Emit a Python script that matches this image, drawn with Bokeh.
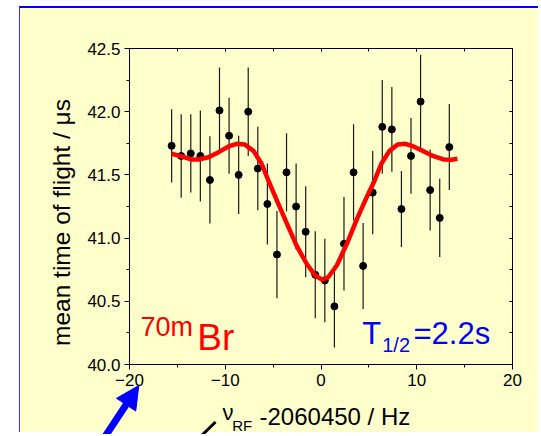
import math
from bokeh.plotting import figure
from bokeh.models import (LinearAxis, SingleIntervalTicker, PrintfTickFormatter,
                          CustomJSTickFormatter, Arrow, NormalHead, ColumnDataSource, Range1d)
from bokeh.core.properties import value
from bokeh.embed import file_html
from bokeh.resources import INLINE

# ---- data ----
freq = [-15.6, -14.6, -13.6, -12.6, -11.6, -10.6, -9.6, -8.6, -7.6, -6.6,
        -5.6, -4.6, -3.6, -2.6, -1.6, -0.6, 0.4, 1.4, 2.4, 3.4,
        4.4, 5.4, 6.4, 7.4, 8.4, 9.4, 10.4, 11.4, 12.4, 13.4]
tof = [41.73, 41.65, 41.67, 41.65, 41.46, 42.01, 41.81, 41.50, 42.00, 41.55,
       41.27, 40.87, 41.52, 41.25, 41.05, 40.71, 40.665, 40.46, 40.955, 41.52,
       40.78, 41.36, 41.88, 41.86, 41.23, 41.65, 42.08, 41.38, 41.16, 41.72]
tof_err = [0.29, 0.33, 0.31, 0.36, 0.345, 0.34, 0.30, 0.31, 0.35, 0.33,
           0.32, 0.345, 0.31, 0.34, 0.36, 0.345, 0.33, 0.325, 0.37, 0.38,
           0.34, 0.33, 0.37, 0.335, 0.30, 0.30, 0.37, 0.32, 0.31, 0.34]
# a point lying just below the axis (only its top shows)
low_freq = [14.4]
low_tof = [39.97]

fit_freq = [-15.6, -14.55, -13.5, -12.8, -11.75, -10.7, -9.65, -8.8, -7.95, -7.05,
            -6.2, -5.5, -4.6, -3.55, -2.55, -1.5, -0.6, 0.1, 0.75, 1.65,
            2.7, 3.75, 4.75, 5.6, 6.3, 7.15, 8.0, 8.8, 9.65, 10.7,
            11.75, 12.8, 13.65, 14.25]
fit_tof = [41.667, 41.646, 41.622, 41.622, 41.64, 41.68, 41.725, 41.746, 41.74, 41.69,
           41.588, 41.456, 41.297, 41.113, 40.94, 40.797, 40.704, 40.672, 40.69, 40.783,
           40.955, 41.15, 41.32, 41.456, 41.588, 41.69, 41.74, 41.746, 41.725, 41.688,
           41.648, 41.622, 41.62, 41.627]

x_range = (-20, 20)
y_range = (40.0, 42.5)

BG = "#FFFFCC"
FONT = "Liberation Sans"
W, H = 519, 426

src = ColumnDataSource(dict(
    x=freq, y=tof,
    lo=[v - e for v, e in zip(tof, tof_err)],
    hi=[v + e for v, e in zip(tof, tof_err)],
))

p = figure(width=W, height=H, x_range=x_range, y_range=y_range,
           output_backend="svg", toolbar_location=None,
           min_border_left=109, min_border_right=27, min_border_top=40, min_border_bottom=70,
           background_fill_color=BG, border_fill_color=BG,
           outline_line_color="black", outline_line_width=1)
p.styles = {"margin-left": "19px", "margin-top": "6px", "background-color": BG,
            "border-top": "2px solid #0000FF", "border-left": "1px solid #3030FF"}
p.grid.visible = False

# bottom axis
xa = p.xaxis[0]
xa.ticker = SingleIntervalTicker(interval=10, num_minor_ticks=2)
xa.major_tick_out = 5
xa.major_tick_in = 0
xa.minor_tick_out = 3
xa.minor_tick_in = 0
xa.major_label_standoff = 4
xa.major_label_text_font = FONT
xa.major_label_text_font_size = "17px"
xa.major_label_text_color = "black"
xa.axis_line_color = "black"
xa.major_tick_line_color = "black"
xa.minor_tick_line_color = "black"

# left axis
ya = p.yaxis[0]
ya.ticker = SingleIntervalTicker(interval=0.5, num_minor_ticks=2)
ya.formatter = PrintfTickFormatter(format="%.1f")
ya.major_tick_out = 5
ya.major_tick_in = 0
ya.minor_tick_out = 3
ya.minor_tick_in = 0
ya.major_label_standoff = 4
ya.major_label_text_font = FONT
ya.major_label_text_font_size = "17px"
ya.major_label_text_color = "black"
ya.axis_line_color = "black"
ya.major_tick_line_color = "black"
ya.minor_tick_line_color = "black"

blank = CustomJSTickFormatter(code="return ''")
top = LinearAxis(ticker=SingleIntervalTicker(interval=10, num_minor_ticks=2), formatter=blank,
                 major_tick_in=3, major_tick_out=0, minor_tick_in=3, minor_tick_out=0,
                 major_label_standoff=0)
right = LinearAxis(ticker=SingleIntervalTicker(interval=0.5, num_minor_ticks=2), formatter=blank,
                   major_tick_in=3, major_tick_out=0, minor_tick_in=3, minor_tick_out=0,
                   major_label_standoff=0)
p.add_layout(top, "above")
p.add_layout(right, "right")

# error bars, points, fit curve
p.segment(x0="x", y0="lo", x1="x", y1="hi", source=src, line_color="#1a1a1a", line_width=1.2)
p.scatter(x="x", y="y", source=src, size=7, marker="circle", fill_color="black", line_color="black")
p.scatter(x=low_freq, y=low_tof, size=7, marker="circle", fill_color="black", line_color="black")
p.line(fit_freq, fit_tof, line_color="#FF0000", line_width=4.5, line_join="round")

# ---- transparent overlay (canvas pixel coordinates) for labels and pointers ----
d = figure(width=W, height=H, x_range=Range1d(0, W), y_range=Range1d(H, 0),
           output_backend="svg", toolbar_location=None,
           x_axis_location=None, y_axis_location=None,
           min_border_left=0, min_border_right=0, min_border_top=0, min_border_bottom=0,
           background_fill_color=None, border_fill_color=None, outline_line_color=None)
d.grid.visible = False
d.styles = {"position": "absolute", "left": "20px", "top": "8px", "pointer-events": "none"}


def txt(x, y, s, size, color, angle=0.0, align="left"):
    d.text(x=[x], y=[y], text=[s], angle=angle, text_align=align,
           text_baseline="alphabetic", text_font=value(FONT),
           text_font_size=size, text_color=color)


# y axis title
txt(41.2, 214, "mean time of flight / \u03bcs", "24.5px", "black", angle=math.pi / 2, align="center")
# x axis title: nu_RF -2060450 / Hz
txt(202, 404.3, "\u03bd", "22px", "black")
txt(211.7, 417.0, "RF", "15px", "black")
txt(239, 407.9, "-2060450 / Hz", "24px", "black")
# 70mBr
txt(120, 318.4, "70m", "27px", "#FF0000")
txt(176.7, 328.9, "Br", "37px", "#FF0000")
# T1/2=2.2s
txt(341.7, 325.2, "T", "31px", "#0000FF")
txt(361.7, 336.9, "1/2", "20px", "#0000FF")
txt(393, 325.2, "=2.2s", "31px", "#0000FF")

# pointers below the axis
d.add_layout(Arrow(end=NormalHead(size=23, fill_color="#0000FF", line_color="#0000FF"),
                   x_start=78, y_start=438, x_end=118.3, y_end=377,
                   line_color="#0000FF", line_width=7))
d.segment(x0=[176], y0=[432], x1=[195], y1=[413.5], line_color="black", line_width=3)

open("out.html", "w").write(file_html([p, d], INLINE))
